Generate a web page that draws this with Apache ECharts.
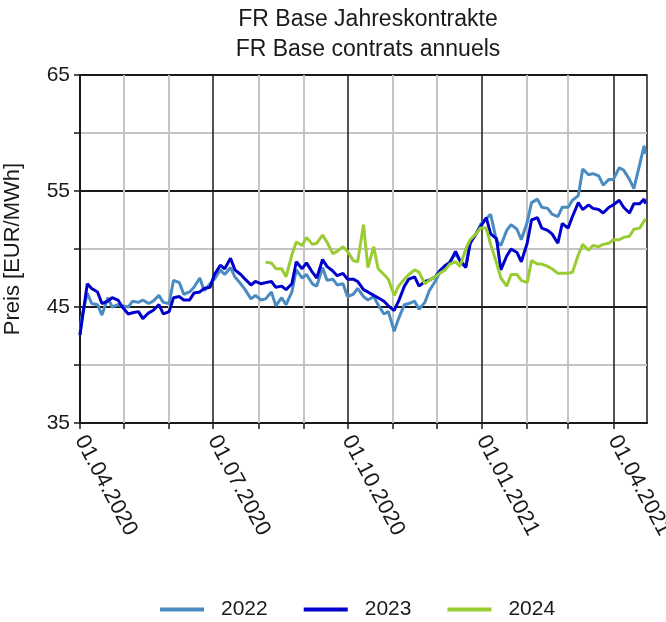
<!DOCTYPE html>
<html>
<head>
<meta charset="utf-8">
<script src="https://cdn.jsdelivr.net/npm/echarts@6/dist/echarts.min.js"></script>
<style>
  html, body { margin: 0; padding: 0; background: #fff; }
  #chart { width: 666px; height: 622px; }
</style>
</head>
<body>
<div id="chart"></div>
<script>
var dates = [
  '2020-04-01','2020-04-02','2020-04-06','2020-04-09','2020-04-13','2020-04-16','2020-04-20','2020-04-23','2020-04-27','2020-04-30',
  '2020-05-04','2020-05-07','2020-05-11','2020-05-14','2020-05-18','2020-05-21','2020-05-25','2020-05-28',
  '2020-06-01','2020-06-04','2020-06-08','2020-06-11','2020-06-15','2020-06-18','2020-06-22','2020-06-25','2020-06-29',
  '2020-07-02','2020-07-06','2020-07-09','2020-07-13','2020-07-16','2020-07-20','2020-07-23','2020-07-27','2020-07-30',
  '2020-08-03','2020-08-06','2020-08-10','2020-08-13','2020-08-17','2020-08-20','2020-08-24','2020-08-27','2020-08-31',
  '2020-09-03','2020-09-07','2020-09-10','2020-09-14','2020-09-17','2020-09-21','2020-09-24','2020-09-28',
  '2020-10-01','2020-10-05','2020-10-08','2020-10-12','2020-10-15','2020-10-19','2020-10-22','2020-10-26','2020-10-29',
  '2020-11-02','2020-11-05','2020-11-09','2020-11-12','2020-11-16','2020-11-19','2020-11-23','2020-11-26','2020-11-30',
  '2020-12-03','2020-12-07','2020-12-10','2020-12-14','2020-12-17','2020-12-21','2020-12-24','2020-12-28','2020-12-31',
  '2021-01-04','2021-01-07','2021-01-11','2021-01-14','2021-01-18','2021-01-21','2021-01-25','2021-01-28',
  '2021-02-01','2021-02-04','2021-02-08','2021-02-11','2021-02-15','2021-02-18','2021-02-22','2021-02-25',
  '2021-03-01','2021-03-04','2021-03-08','2021-03-11','2021-03-15','2021-03-18','2021-03-22','2021-03-25','2021-03-29',
  '2021-04-01','2021-04-05','2021-04-08','2021-04-12','2021-04-15','2021-04-19','2021-04-22','2021-04-23'
];

var y2022 = [
  42.6, 44.0, 46.2, 45.3, 45.2, 44.3, 45.8, 45.0, 45.2, 45.1,
  45.0, 45.5, 45.4, 45.6, 45.3, 45.5, 46.0, 45.4,
  45.3, 47.3, 47.1, 46.1, 46.3, 46.7, 47.5, 46.4, 47.0,
  47.4, 48.2, 47.8, 48.4, 47.6, 47.0, 46.5, 45.7, 46.0,
  45.6, 45.7, 46.3, 45.1, 45.8, 45.2, 46.3, 48.2, 47.5,
  47.8, 47.0, 46.8, 48.4, 47.3, 47.4, 46.9, 47.0,
  45.9, 46.1, 46.6, 45.9, 45.6, 45.9, 45.2, 44.4, 44.6,
  42.9, 44.0, 45.2, 45.3, 45.5, 44.8, 45.4, 46.4, 47.2,
  47.9, 48.5, 48.9, 49.6, 49.0, 48.5, 50.6, 51.3, 52.1,
  52.6, 53.0, 50.7, 50.3, 51.6, 52.1, 51.7, 50.8,
  52.3, 54.0, 54.3, 53.6, 53.5, 53.0, 52.8, 53.6,
  53.6, 54.2, 54.6, 56.9, 56.4, 56.5, 56.3, 55.5, 56.0,
  56.0, 57.0, 56.8, 56.0, 55.2, 57.3, 58.9, 58.2
];

var y2023 = [
  42.6, 43.5, 47.0, 46.6, 46.3, 45.3, 45.5, 45.8, 45.6, 45.0,
  44.4, 44.5, 44.6, 44.0, 44.5, 44.7, 45.2, 44.4,
  44.6, 45.8, 45.9, 45.6, 45.6, 46.2, 46.3, 46.6, 46.7,
  47.8, 48.6, 48.3, 49.2, 48.2, 47.8, 47.4, 46.9, 47.2,
  47.0, 47.1, 47.2, 46.7, 46.8, 46.5, 47.0, 48.9, 48.3,
  48.8, 48.0, 47.5, 49.1, 48.5, 48.1, 47.7, 47.9,
  47.4, 47.4, 47.2, 46.5, 46.3, 46.0, 45.8, 45.5, 45.1,
  44.7, 45.5, 46.8, 47.4, 47.6, 46.8, 47.2, 47.3, 47.6,
  48.1, 48.6, 48.8, 49.8, 49.0, 48.4, 50.5, 51.3, 51.9,
  52.7, 51.3, 50.9, 48.2, 49.4, 50.0, 49.7, 48.9,
  50.5, 52.5, 52.7, 51.8, 51.6, 51.3, 50.5, 52.2,
  51.8, 52.8, 54.0, 53.4, 53.8, 53.5, 53.4, 53.1, 53.6,
  53.8, 54.2, 53.6, 53.1, 53.9, 53.9, 54.3, 53.9
];

var y2024 = [
  null, null, null, null, null, null, null, null, null, null,
  null, null, null, null, null, null, null, null,
  null, null, null, null, null, null, null, null, null,
  null, null, null, null, null, null, null, null, null,
  null, 48.85, 48.8, 48.3, 48.3, 47.6, 49.5, 50.6, 50.3,
  51.0, 50.4, 50.5, 51.2, 50.6, 49.6, 49.8, 50.2,
  49.8, 49.0, 48.9, 52.1, 48.4, 50.2, 48.3, 47.8, 47.4,
  46.0, 46.8, 47.4, 47.8, 48.2, 48.0, 47.0, 47.3, 47.6,
  47.9, 48.2, 48.7, 48.9, 48.5, 50.0, 50.8, 51.3, 51.8,
  51.8, 50.4, 48.8, 47.5, 46.8, 47.8, 47.8, 47.3,
  47.1, 49.0, 48.7, 48.7, 48.5, 48.3, 47.9, 47.9,
  47.9, 48.0, 49.5, 50.4, 49.9, 50.3, 50.2, 50.4, 50.5,
  50.8, 50.8, 51.0, 51.1, 51.7, 51.8, 52.4, 52.6
];

var monthTicks = [
  '2020-04-01','2020-05-01','2020-06-01','2020-07-01','2020-08-01','2020-09-01','2020-10-01',
  '2020-11-01','2020-12-01','2021-01-01','2021-02-01','2021-03-01','2021-04-01'
];
var quarterTicks = ['2020-04-01','2020-07-01','2020-10-01','2021-01-01','2021-04-01'];

var seriesNames = ['2022', '2023', '2024'];
var seriesColors = ['#4a8cc2', '#0000cc', '#99cc33'];

var FONT = "'Liberation Sans Narrow', 'Liberation Sans', Arial, sans-serif";

function ts(s) {
  var p = s.split('-');
  return new Date(+p[0], +p[1] - 1, +p[2]).getTime();
}
function pair(vals) {
  return dates.map(function (d, i) { return [ts(d), vals[i]]; });
}
function pad(n) { return n < 10 ? '0' + n : '' + n; }

var grayLines = monthTicks.filter(function (m) { return quarterTicks.indexOf(m) < 0; })
  .map(function (m) { return { xAxis: ts(m), lineStyle: { color: '#c4c4c4', width: 2, type: 'solid' } }; });
var blackLines = quarterTicks.slice(1)
  .map(function (m) { return { xAxis: ts(m), lineStyle: { color: '#1a1a1a', width: 1.5, type: 'solid' } }; });

var myChart = echarts.init(document.getElementById('chart'));

var series = [{
  name: 'grid',
  type: 'line',
  data: [],
  silent: true,
  markLine: {
    z: 1,
    silent: true,
    symbol: ['none', 'none'],
    label: { show: false },
    animation: false,
    data: grayLines.concat(blackLines)
  }
}];
[y2022, y2023, y2024].forEach(function (vals, i) {
  series.push({
    name: seriesNames[i],
    type: 'line',
    data: pair(vals),
    showSymbol: false,
    connectNulls: false,
    z: 3,
    lineStyle: { color: seriesColors[i], width: 3 },
    itemStyle: { color: seriesColors[i] }
  });
});

var option = {
  animation: false,
  textStyle: { fontFamily: FONT },
  title: {
    text: 'FR Base Jahreskontrakte\nFR Base contrats annuels',
    left: 363,
    top: 0,
    textAlign: 'center',
    textStyle: { fontFamily: FONT, fontSize: 23, fontWeight: 'normal', color: '#1a1a1a', lineHeight: 30 }
  },
  legend: {
    data: seriesNames,
    left: 155,
    top: 594,
    icon: 'rect',
    itemWidth: 44,
    itemHeight: 4,
    itemGap: 36,
    textStyle: { fontFamily: FONT, fontSize: 21, color: '#1a1a1a', padding: [0, 0, 0, 12] }
  },
  grid: {
    left: 80,
    right: 19,
    top: 75,
    bottom: 199,
    outerBoundsMode: 'none',
    containLabel: false,
    show: true,
    borderColor: '#1a1a1a',
    borderWidth: 1.5,
    backgroundColor: 'transparent'
  },
  xAxis: {
    type: 'value',
    min: ts('2020-04-01'),
    max: ts('2021-04-24'),
    axisLine: { onZero: false, lineStyle: { color: '#1a1a1a', width: 2 } },
    axisTick: {
      show: true,
      length: 6,
      customValues: monthTicks.map(ts),
      lineStyle: { color: '#1a1a1a', width: 1.5 }
    },
    axisLabel: {
      customValues: quarterTicks.map(ts),
      rotate: -62,
      margin: 14,
      fontSize: 22,
      color: '#1a1a1a',
      fontFamily: FONT,
      hideOverlap: false,
      formatter: function (v) {
        var d = new Date(v);
        return pad(d.getDate()) + '.' + pad(d.getMonth() + 1) + '.' + d.getFullYear();
      }
    },
    splitLine: { show: false }
  },
  yAxis: {
    type: 'value',
    min: 35,
    max: 65,
    interval: 5,
    name: 'Preis [EUR/MWh]',
    nameLocation: 'middle',
    nameGap: 56,
    nameTextStyle: { fontFamily: FONT, fontSize: 22, color: '#1a1a1a' },
    axisLine: { show: true, lineStyle: { color: '#1a1a1a', width: 2 } },
    axisTick: { show: true, length: 6, lineStyle: { color: '#1a1a1a', width: 1.5 } },
    axisLabel: {
      fontSize: 21,
      color: '#1a1a1a',
      margin: 10,
      fontFamily: FONT,
      formatter: function (v) { return (v - 35) % 10 === 0 ? String(v) : ''; }
    },
    splitLine: { show: true, lineStyle: { color: ['#1a1a1a', '#c4c4c4'], width: 1.8 } }
  },
  series: series
};

myChart.setOption(option);
</script>
</body>
</html>
